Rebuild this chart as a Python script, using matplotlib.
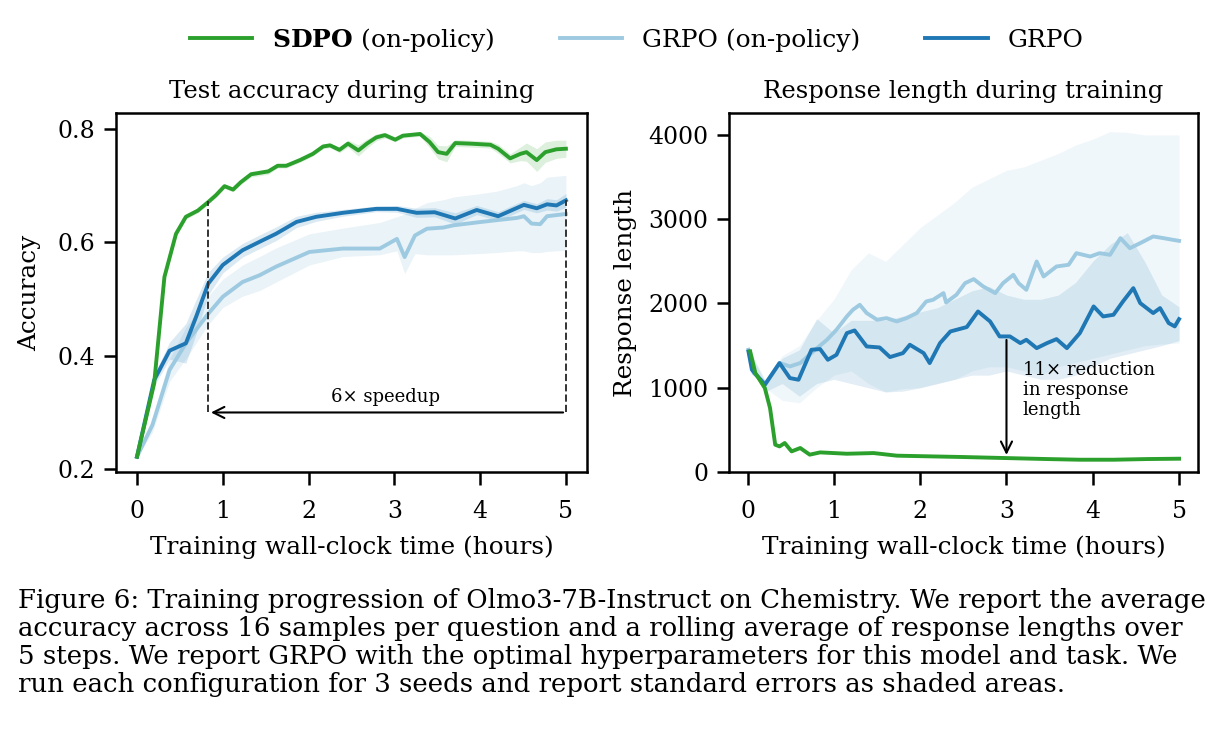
import matplotlib
matplotlib.use("Agg")
import matplotlib.pyplot as plt
import numpy as np

plt.rcParams['font.family'] = ['DejaVu Serif']
plt.rcParams['mathtext.fontset'] = 'custom'
plt.rcParams['mathtext.rm'] = 'DejaVu Serif'
plt.rcParams['mathtext.bf'] = 'DejaVu Serif:bold'

GREEN = "#2ca02c"
DARK = "#1f77b4"
LIGHT = "#9ecae1"

# ---- left panel: test accuracy ----
acc_sdpo_x = [0, 0.2, 0.32, 0.455, 0.57, 0.71, 0.83, 0.92, 1.02, 1.12, 1.21, 1.33, 1.53, 1.64, 1.74,
              1.90, 2.05, 2.17, 2.25, 2.36, 2.46, 2.58, 2.68, 2.79, 2.89, 3.01, 3.10, 3.30, 3.41,
              3.51, 3.61, 3.71, 3.88, 4.12, 4.21, 4.35, 4.47, 4.54, 4.66, 4.76, 4.89, 5.0]
acc_sdpo = [0.222, 0.351, 0.539, 0.615, 0.645, 0.656, 0.671, 0.683, 0.699, 0.693, 0.706, 0.720, 0.725,
            0.735, 0.735, 0.745, 0.756, 0.769, 0.771, 0.763, 0.774, 0.762, 0.774, 0.785, 0.789, 0.781,
            0.788, 0.791, 0.777, 0.759, 0.756, 0.775, 0.774, 0.772, 0.765, 0.748, 0.756, 0.759, 0.745,
            0.759, 0.764, 0.765]
acc_sdpo_err = [0.002, 0.004, 0.005, 0.005, 0.004, 0.004, 0.004, 0.004, 0.004, 0.004, 0.004, 0.005, 0.005,
                0.004, 0.004, 0.004, 0.004, 0.004, 0.004, 0.005, 0.006, 0.010, 0.008, 0.006, 0.005, 0.004,
                0.004, 0.004, 0.010, 0.012, 0.014, 0.006, 0.006, 0.006, 0.008, 0.008, 0.012, 0.016, 0.020,
                0.018, 0.016, 0.015]

acc_grpo_x = [0, 0.2, 0.38, 0.57, 0.69, 0.83, 1.0, 1.23, 1.47, 1.62, 1.86, 2.09, 2.40, 2.79, 3.03,
              3.26, 3.47, 3.71, 3.96, 4.21, 4.51, 4.66, 4.78, 4.89, 5.0]
acc_grpo = [0.222, 0.357, 0.409, 0.422, 0.469, 0.527, 0.560, 0.586, 0.604, 0.615, 0.636, 0.645, 0.652,
            0.659, 0.659, 0.652, 0.653, 0.642, 0.657, 0.646, 0.666, 0.660, 0.667, 0.665, 0.674]
acc_grpo_err = [0.002, 0.010, 0.015, 0.035, 0.030, 0.020, 0.014, 0.012, 0.012, 0.012, 0.010, 0.008, 0.006,
                0.005, 0.006, 0.008, 0.008, 0.010, 0.008, 0.008, 0.008, 0.008, 0.010, 0.010, 0.012]

acc_onp_x = [0, 0.18, 0.38, 0.57, 0.83, 1.0, 1.23, 1.43, 1.62, 2.01, 2.40, 2.83, 3.03, 3.12, 3.24,
             3.38, 3.57, 3.69, 3.96, 4.19, 4.43, 4.51, 4.60, 4.70, 4.78, 5.0]
acc_onp = [0.222, 0.278, 0.375, 0.422, 0.474, 0.504, 0.530, 0.542, 0.557, 0.583, 0.589, 0.589, 0.606,
           0.574, 0.612, 0.624, 0.626, 0.630, 0.635, 0.639, 0.643, 0.646, 0.633, 0.632, 0.646, 0.650]
acc_onp_lo = [0.222, 0.265, 0.355, 0.395, 0.455, 0.485, 0.505, 0.515, 0.530, 0.560, 0.575, 0.578, 0.585,
              0.545, 0.580, 0.578, 0.578, 0.578, 0.580, 0.582, 0.585, 0.585, 0.582, 0.582, 0.584, 0.586]
acc_onp_hi = [0.222, 0.290, 0.395, 0.450, 0.505, 0.535, 0.560, 0.575, 0.590, 0.615, 0.625, 0.635, 0.645,
              0.650, 0.660, 0.670, 0.675, 0.680, 0.685, 0.690, 0.700, 0.705, 0.700, 0.705, 0.715, 0.718]

# ---- right panel: response length ----
len_sdpo_x = [0.03, 0.09, 0.20, 0.26, 0.32, 0.37, 0.43, 0.51, 0.61, 0.72, 0.84, 1.15, 1.46, 1.73,
              2.11, 2.50, 2.98, 3.47, 3.85, 4.24, 4.63, 5.0]
len_sdpo = [1431, 1174, 996, 759, 324, 304, 344, 245, 285, 206, 233, 217, 225, 194, 186, 178, 166,
            154, 146, 146, 154, 158]

len_grpo_x = [0.01, 0.05, 0.20, 0.37, 0.49, 0.59, 0.74, 0.84, 0.93, 1.03, 1.15, 1.24, 1.38, 1.53, 1.65,
              1.80, 1.88, 2.04, 2.11, 2.23, 2.35, 2.54, 2.67, 2.81, 2.92, 3.04, 3.16, 3.23, 3.35, 3.47,
              3.58, 3.70, 3.85, 4.01, 4.12, 4.24, 4.35, 4.47, 4.55, 4.70, 4.78, 4.88, 4.95, 5.0]
len_grpo = [1431, 1213, 1036, 1293, 1115, 1095, 1451, 1459, 1332, 1391, 1648, 1680, 1490, 1478, 1364,
            1411, 1510, 1411, 1293, 1530, 1668, 1720, 1905, 1787, 1609, 1609, 1530, 1569, 1470, 1530,
            1577, 1470, 1648, 1965, 1846, 1866, 2024, 2182, 2004, 1886, 1945, 1767, 1728, 1814]

len_onp_x = [0.01, 0.07, 0.21, 0.37, 0.49, 0.61, 0.76, 0.92, 1.03, 1.15, 1.22, 1.30, 1.38, 1.50, 1.61,
             1.73, 1.84, 1.96, 2.07, 2.15, 2.27, 2.30, 2.42, 2.52, 2.62, 2.73, 2.87, 2.96, 3.08, 3.14,
             3.23, 3.35, 3.43, 3.58, 3.72, 3.81, 3.97, 4.08, 4.20, 4.32, 4.43, 4.55, 4.70, 4.82, 4.93, 5.0]
len_onp = [1451, 1174, 1048, 1293, 1253, 1293, 1431, 1569, 1688, 1846, 1925, 1984, 1886, 1807, 1826,
           1787, 1826, 1886, 2024, 2044, 2123, 2012, 2103, 2241, 2289, 2202, 2123, 2241, 2340, 2241,
           2162, 2498, 2320, 2439, 2459, 2597, 2557, 2597, 2577, 2775, 2656, 2716, 2795, 2775, 2755, 2743]

# shaded bands (standard errors), read on a coarser grid
band_x = [0.01, 0.2, 0.4, 0.6, 0.8, 1.0, 1.2, 1.4, 1.6, 1.8, 2.0, 2.2, 2.4, 2.6, 2.8, 3.0, 3.2, 3.4,
          3.6, 3.8, 4.0, 4.2, 4.4, 4.6, 4.8, 5.0]
len_onp_lo = [1400, 1000, 850, 820, 1000, 1150, 1200, 1050, 950, 990, 1000, 1050, 1100, 1200, 1250,
              1250, 1200, 1150, 1250, 1300, 1350, 1400, 1450, 1500, 1520, 1530]
len_onp_hi = [1480, 1100, 1380, 1500, 1800, 2050, 2400, 2600, 2500, 2700, 2900, 3050, 3200, 3380, 3480,
              3580, 3620, 3700, 3780, 3880, 3950, 4040, 4030, 4000, 4000, 4000]
len_grpo_lo = [1400, 950, 1050, 900, 1050, 1100, 1050, 1000, 950, 960, 1000, 1050, 1100, 1150, 1150,
               1200, 1150, 1100, 1100, 1150, 1250, 1350, 1400, 1450, 1500, 1560]
len_grpo_hi = [1460, 1080, 1350, 1450, 1820, 1650, 1800, 1800, 1800, 1850, 1900, 1950, 2050, 2150, 2200,
               2100, 2050, 2050, 2100, 2250, 2500, 2700, 2840, 2500, 2100, 1960]

fig = plt.figure(figsize=(12.22, 7.29), dpi=100)
ax1 = fig.add_axes([0.0949, 0.3525, 0.3854, 0.4925])
ax2 = fig.add_axes([0.5966, 0.3525, 0.3838, 0.4925])

LW = 2.8
FILL_A = 0.16

# left
x = np.array(acc_sdpo_x); y = np.array(acc_sdpo); e = np.array(acc_sdpo_err)
ax1.fill_between(x, y - e, y + e, color=GREEN, alpha=FILL_A, lw=0)
x = np.array(acc_onp_x)
ax1.fill_between(x, acc_onp_lo, acc_onp_hi, color=LIGHT, alpha=0.22, lw=0)
x = np.array(acc_grpo_x); y = np.array(acc_grpo); e = np.array(acc_grpo_err)
ax1.fill_between(x, y - e, y + e, color=DARK, alpha=FILL_A, lw=0)
ax1.plot(acc_onp_x, acc_onp, color=LIGHT, lw=LW, label="GRPO (on-policy)")
ax1.plot(acc_grpo_x, acc_grpo, color=DARK, lw=LW, label="GRPO")
ax1.plot(acc_sdpo_x, acc_sdpo, color=GREEN, lw=LW, label=r"$\mathbf{SDPO}$ (on-policy)")

ax1.set_ylim(0.195, 0.828)
ax1.set_xlim(-0.245, 5.245)
ax1.set_yticks([0.2, 0.4, 0.6, 0.8])
ax1.set_xticks([0, 1, 2, 3, 4, 5])
ax1.set_title("Test accuracy during training", fontsize=17.5, pad=11)
ax1.set_xlabel("Training wall-clock time (hours)", fontsize=17.8, labelpad=9)
ax1.set_ylabel("Accuracy", fontsize=17.8, labelpad=12)

# speedup annotation
ax1.plot([0.83, 0.83], [0.30, 0.672], ls="--", color="#333333", lw=1.4)
ax1.plot([5.0, 5.0], [0.30, 0.675], ls="--", color="#333333", lw=1.4)
ax1.annotate("", xy=(0.83, 0.30), xytext=(5.0, 0.30),
             arrowprops=dict(arrowstyle="->", color="black", lw=1.5, mutation_scale=20))
ax1.text(2.9, 0.311, "6× speedup", ha="center", va="bottom", fontsize=13)

# right
ax2.fill_between(band_x, len_onp_lo, len_onp_hi, color=LIGHT, alpha=0.15, lw=0)
ax2.fill_between(band_x, len_grpo_lo, len_grpo_hi, color=DARK, alpha=0.13, lw=0)
ax2.plot(len_onp_x, len_onp, color=LIGHT, lw=LW)
ax2.plot(len_grpo_x, len_grpo, color=DARK, lw=LW)
ax2.plot(len_sdpo_x, len_sdpo, color=GREEN, lw=LW)

ax2.set_ylim(0, 4260)
ax2.set_xlim(-0.215, 5.22)
ax2.set_yticks([0, 1000, 2000, 3000, 4000])
ax2.set_xticks([0, 1, 2, 3, 4, 5])
ax2.set_title("Response length during training", fontsize=17.5, pad=11)
ax2.set_xlabel("Training wall-clock time (hours)", fontsize=17.8, labelpad=9)
ax2.set_ylabel("Response length", fontsize=17.8, labelpad=8)

ax2.annotate("", xy=(3.0, 170), xytext=(3.0, 1600),
             arrowprops=dict(arrowstyle="->", color="black", lw=1.5, mutation_scale=20))
ax2.text(3.19, 1320, "11× reduction\nin response\nlength", ha="left", va="top",
         fontsize=13, linespacing=1.15)

for ax in (ax1, ax2):
    for s in ax.spines.values():
        s.set_linewidth(1.8)
    ax.tick_params(width=1.8, length=9, labelsize=17)
    ax.tick_params(axis="x", pad=11)
    ax.tick_params(axis="y", pad=6)

handles, labels = ax1.get_legend_handles_labels()
order = [2, 0, 1]
fig.legend([handles[i] for i in order], [labels[i] for i in order],
           loc="center", bbox_to_anchor=(0.521, 0.945), ncol=3, frameon=False,
           fontsize=18, handlelength=2.5, handletextpad=0.8, columnspacing=2.6)

caption = ("Figure 6: Training progression of Olmo3-7B-Instruct on Chemistry. We report the average\n"
           "accuracy across 16 samples per question and a rolling average of response lengths over\n"
           "5 steps. We report GRPO with the optimal hyperparameters for this model and task. We\n"
           "run each configuration for 3 seeds and report standard errors as shaded areas.")
fig.text(0.015, 0.193, caption, ha="left", va="top", fontsize=18.7, linespacing=1.14)

fig.savefig("out.png", dpi=100)
